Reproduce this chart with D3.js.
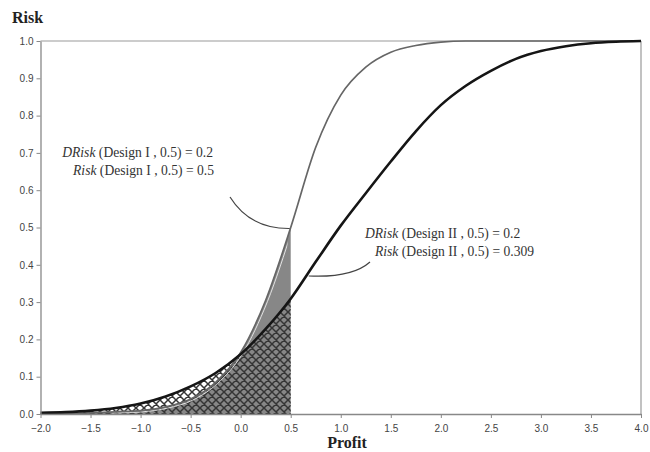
<!DOCTYPE html>
<html>
<head>
<meta charset="utf-8">
<script src="https://cdn.jsdelivr.net/npm/d3@7"></script>
<style>
  html, body { margin: 0; padding: 0; background: #fff; }
  svg { display: block; }
</style>
</head>
<body>
<svg id="chart" width="650" height="452"></svg>
<script>
// Profit grid shared by both cumulative risk curves
const profit = [-2.0, -1.75, -1.5, -1.25, -1.0, -0.75, -0.5, -0.25, 0.0, 0.25, 0.5,
                0.75, 1.0, 1.25, 1.5, 1.75, 2.0, 2.25, 2.5, 2.75, 3.0, 3.25, 3.5, 3.75, 4.0];
// Risk curve for Design I (steeper, thin grey line)
const riskDesignI = [0.0, 0.001, 0.003, 0.006, 0.009, 0.019, 0.04, 0.085, 0.165, 0.305, 0.5,
                     0.715, 0.855, 0.93, 0.97, 0.988, 0.997, 1.0, 1.0, 1.0, 1.0, 1.0, 1.0, 1.0, 1.0];
// Risk curve for Design II (flatter, heavy black line)
const riskDesignII = [0.003, 0.005, 0.009, 0.016, 0.028, 0.047, 0.074, 0.11, 0.16, 0.228, 0.309,
                      0.408, 0.505, 0.592, 0.677, 0.758, 0.828, 0.88, 0.92, 0.952, 0.973, 0.986, 0.994, 0.998, 1.0];
// Target profit up to which the downside area is shaded
const target = 0.5;

const xTicks = [-2.0, -1.5, -1.0, -0.5, 0.0, 0.5, 1.0, 1.5, 2.0, 2.5, 3.0, 3.5, 4.0];
const yTicks = [0.0, 0.1, 0.2, 0.3, 0.4, 0.5, 0.6, 0.7, 0.8, 0.9, 1.0];

const annotationI = ["DRisk", " (Design I , 0.5) = 0.2", "Risk", " (Design I , 0.5) = 0.5"];
const annotationII = ["DRisk", " (Design II , 0.5) = 0.2", "Risk", " (Design II , 0.5) = 0.309"];

const svg = d3.select("#chart");
const x = d3.scaleLinear().domain([-2, 4]).range([40.5, 641]);
const y = d3.scaleLinear().domain([0, 1]).range([414, 41]);

const defs = svg.append("defs");
const pat = defs.append("pattern")
  .attr("id", "crosshatch")
  .attr("patternUnits", "userSpaceOnUse")
  .attr("width", 8).attr("height", 8);
pat.append("path")
  .attr("d", "M0,0 L8,8 M-1,7 L1,9 M7,-1 L9,1 M0,8 L8,0 M-1,1 L1,-1 M7,9 L9,7")
  .attr("stroke", "#353535").attr("stroke-width", 1.5).attr("fill", "none");

const rows = profit.map((p, i) => ({ p, a: riskDesignI[i], b: riskDesignII[i] }));
const shaded = rows.filter(d => d.p <= target);

// Shaded downside areas
const areaI = d3.area().x(d => x(d.p)).y0(y(0)).y1(d => y(d.a)).curve(d3.curveMonotoneX);
const areaII = d3.area().x(d => x(d.p)).y0(y(0)).y1(d => y(d.b)).curve(d3.curveMonotoneX);
svg.append("path").datum(shaded).attr("d", areaI).attr("fill", "#878787");
svg.append("path").datum(shaded).attr("d", areaII).attr("fill", "url(#crosshatch)");

// Light seam just inside the Design I edge of the shaded area
defs.append("clipPath").attr("id", "seam")
  .append("rect").attr("x", x(-1.3)).attr("y", y(1)).attr("width", x(0.45) - x(-1.3)).attr("height", y(0) - y(1));
const lineI = d3.line().x(d => x(d.p)).y(d => y(d.a)).curve(d3.curveMonotoneX);
const lineII = d3.line().x(d => x(d.p)).y(d => y(d.b)).curve(d3.curveMonotoneX);
svg.append("path").datum(shaded).attr("d", lineI)
  .attr("transform", "translate(1.8,1.2)").attr("clip-path", "url(#seam)")
  .attr("fill", "none").attr("stroke", "#f2f2f2").attr("stroke-width", 1).attr("opacity", 0.85);

// Frame: top and right edges
svg.append("line").attr("x1", x(-2)).attr("x2", x(4)).attr("y1", y(1)).attr("y2", y(1))
  .attr("stroke", "#999").attr("stroke-width", 1.2);
svg.append("line").attr("x1", x(4)).attr("x2", x(4)).attr("y1", y(1)).attr("y2", y(0))
  .attr("stroke", "#999").attr("stroke-width", 1.2);

// Curves
svg.append("path").datum(rows).attr("d", lineI)
  .attr("fill", "none").attr("stroke", "#666").attr("stroke-width", 1.7);
svg.append("path").datum(rows).attr("d", lineII)
  .attr("fill", "none").attr("stroke", "#151515").attr("stroke-width", 2.6);

// Axes
const yAxis = svg.append("g").attr("transform", `translate(${x(-2)},0)`)
  .call(d3.axisLeft(y).tickValues(yTicks).tickFormat(d3.format(".1f")).tickSize(4).tickSizeOuter(0));
const xAxis = svg.append("g").attr("transform", `translate(0,${y(0)})`)
  .call(d3.axisBottom(x).tickValues(xTicks).tickFormat(d3.format(".1f")).tickSize(4).tickSizeOuter(0));
[yAxis, xAxis].forEach(g => {
  g.select(".domain").attr("stroke", "#888").attr("stroke-width", 1.3);
  g.selectAll(".tick line").attr("stroke", "#888");
  g.selectAll(".tick text").attr("fill", "#444")
    .style("font-family", "'Liberation Sans', Arial, sans-serif").style("font-size", "10px");
});
xAxis.selectAll(".tick text").attr("dy", "1.05em");
yAxis.selectAll(".tick text").attr("x", -7);

// Axis titles
svg.append("text").attr("x", 12).attr("y", 23).text("Risk")
  .style("font-family", "'Liberation Serif', 'Times New Roman', serif")
  .style("font-size", "16px").style("font-weight", "bold").attr("fill", "#222");
svg.append("text").attr("x", 347).attr("y", 448).attr("text-anchor", "middle").text("Profit")
  .style("font-family", "'Liberation Serif', 'Times New Roman', serif")
  .style("font-size", "16px").style("font-weight", "bold").attr("fill", "#222");

// Annotations with leader lines
function note(lines, anchor, xs, ys) {
  const t = svg.append("g")
    .style("font-family", "'Liberation Serif', 'Times New Roman', serif")
    .style("font-size", "13.6px").attr("fill", "#333");
  [0, 1].forEach(k => {
    const tx = t.append("text").attr("x", xs[k]).attr("y", ys[k]).attr("text-anchor", anchor);
    tx.append("tspan").style("font-style", "italic").text(lines[2 * k]);
    tx.append("tspan").text(lines[2 * k + 1]);
  });
}
note(annotationI, "end", [213, 214], [157, 175]);
note(annotationII, "start", [365, 375], [238, 256]);

const pI = [x(target), y(riskDesignI[profit.indexOf(target)])];
svg.append("path")
  .attr("d", `M230,197 Q250,229 ${pI[0] - 1},${pI[1] + 1}`)
  .attr("fill", "none").attr("stroke", "#444").attr("stroke-width", 1.2);
const pII = [x(0.68), y(0.37)];
svg.append("path")
  .attr("d", `M370,262 Q352,278 ${pII[0]},${pII[1]}`)
  .attr("fill", "none").attr("stroke", "#444").attr("stroke-width", 1.2);
</script>
</body>
</html>
